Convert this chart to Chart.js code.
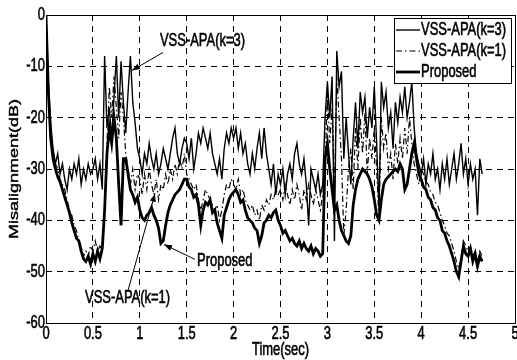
<!DOCTYPE html>
<html>
<head>
<meta charset="utf-8">
<script src="https://cdn.jsdelivr.net/npm/chart.js@4/dist/chart.umd.min.js"></script>
<style>
  body { margin: 0; background: #fff; }
  canvas { display: block; }
</style>
</head>
<body>
<canvas id="misalignChart" width="517" height="360"></canvas>
<script>
// Sample spacing of the misalignment curves (seconds)
const timeStep = 0.025;

// Axis ticks
const xTicks = [0, 0.5, 1, 1.5, 2, 2.5, 3, 3.5, 4, 4.5, 5];
const yTicks = [0, -10, -20, -30, -40, -50, -60];

const seriesNames = ['VSS-APA(k=3)', 'VSS-APA(k=1)', 'Proposed'];

// Misalignment (dB), one row = 0.5 s
const vssK3 = [
  0, -13, -21, -26, -29, -27, -31, -29, -32, -34, -30, -32, -29, -31, -28, -33, -30, -32, -29, -31,
  -30, -28, -32, -29, -34, -8, -22, -18, -24, -16, -8, -20, -9, -17, -23, -15, -8, -17, -21, -26,
  -28, -31, -27, -29, -25, -28, -30, -27, -31, -29, -26, -28, -30, -27, -24, -22, -27, -29, -26, -24,
  -25, -28, -24, -30, -27, -23, -25, -22, -24, -26, -23, -27, -29, -31, -28, -32, -26, -23, -25, -22,
  -24, -22, -26, -23, -27, -25, -29, -31, -27, -30, -26, -23, -28, -22, -27, -30, -33, -29, -35, -31,
  -33, -30, -35, -31, -29, -32, -27, -25, -29, -31, -28, -33, -41, -30, -32, -34, -31, -35, -33, -20,
  -13, -20, -12, -44, -7, -14, -11, -28, -20, -27, -33, -24, -17, -26, -15, -19, -16, -24, -18, -22,
  -14, -25, -38, -13, -18, -15, -22, -19, -26, -17, -21, -16, -19, -14, -20, -17, -13, -22, -27, -29,
  -31, -28, -33, -29, -31, -27, -32, -30, -34, -29, -32, -28, -33, -30, -27, -32, -29, -25, -31, -28,
  -33, -29, -32, -30, -39, -28, -31
];

const vssK1 = [
  0, -14, -23, -27, -29, -30, -32, -33, -34, -36, -38, -39, -41, -42, -44, -45, -47, -46, -47, -45,
  -46, -44, -46, -45, -46, -38, -25, -14, -20, -12, -18, -24, -15, -20, -27, -30, -33, -30, -34, -31,
  -32, -35, -31, -34, -30, -33, -35, -32, -36, -33, -34, -31, -33, -30, -32, -29, -31, -28, -30, -27,
  -31, -32, -33, -34, -33, -36, -38, -36, -34, -35, -36, -37, -38, -37, -40, -38, -35, -33, -34, -32,
  -33, -34, -32, -35, -34, -36, -37, -38, -37, -39, -38, -40, -37, -38, -36, -37, -35, -36, -34, -35,
  -34, -36, -33, -35, -37, -34, -36, -33, -35, -38, -34, -36, -33, -35, -37, -34, -36, -38, -35, -30,
  -15, -25, -18, -35, -12, -20, -28, -43, -38, -30, -26, -34, -22, -30, -20, -27, -19, -31, -24, -28,
  -22, -30, -40, -20, -26, -23, -30, -27, -32, -25, -29, -24, -28, -22, -27, -20, -25, -29, -31, -33,
  -30, -31, -32.5, -33, -34.5, -35, -36.5, -37, -38.5, -40, -41, -42.5, -43, -44.5, -46, -48, -49.5, -47, -44, -45,
  -46, -45, -47, -46, -48, -46, -47
];

const proposed = [
  0, -15, -24, -28, -30, -31.5, -32.5, -34, -35.5, -37, -38.5, -40.5, -42, -43.5, -44, -46, -47.5, -48, -47, -48.5,
  -46.5, -48, -46, -47.5, -45.5, -38, -27, -22, -25, -20, -24, -33, -41, -28, -28, -31, -34, -35, -36.5, -35.5,
  -38, -39.5, -40, -39, -38.5, -37.5, -39, -40, -41.5, -44.5, -44, -41, -38.5, -37, -36, -35, -34.5, -34, -33, -32,
  -32, -33.5, -34, -35.5, -35, -37, -41, -38, -36.5, -37, -36, -38.5, -38, -40.5, -42, -43.5, -39, -37.5, -36, -35,
  -34.5, -34, -35, -36.5, -36, -38, -39.5, -40, -40.5, -41.5, -42, -44.5, -43, -40.5, -40, -39, -39.5, -38.5, -38, -40,
  -41, -42.5, -42, -43, -44, -43.5, -44.5, -45, -44, -45.5, -44.5, -45.5, -46, -45, -46.5, -45.5, -46, -47, -46.5, -28,
  -25, -30, -34, -38, -37, -40, -42, -43, -44, -44.5, -43, -37, -34, -32, -31, -30, -30.5, -31, -32, -33.5,
  -36, -39, -40, -36, -33, -32, -31.5, -31, -30.5, -30, -30.5, -29, -30, -34, -33, -30, -27, -25, -28, -31,
  -32, -33.5, -34, -35.5, -36, -37.5, -38, -39.5, -40, -42, -42.5, -44, -45, -46.5, -48, -50, -51, -48, -45, -46.5,
  -47, -45.5, -48, -46.5, -49, -47, -48
];

// turn a value list into {x, y} points
function toPoints(values) {
  return values.map((v, i) => ({ x: i * timeStep, y: v }));
}

// text labels with pointer arrows, in data units
const callouts = [
  { text: 'VSS-APA(k=3)', at: [1.215, -5.1], from: [1.247, -7.3], to: [0.917, -10.8] },
  { text: 'Proposed', at: [1.61, -47.9], from: [1.588, -47.6], to: [1.258, -44.7] },
  { text: 'VSS-APA(k=1)', at: [0.416, -55.2], from: [0.874, -53.7], to: [1.162, -34.8] }
];

const FONT = '18px "Liberation Sans", Arial, sans-serif';
const SQUEEZE = 0.72;

// narrow, slightly heavy text like the old plot export
function drawSqueezed(ctx, text, x, y, align) {
  ctx.save();
  ctx.translate(x, y);
  ctx.scale(SQUEEZE, 1);
  ctx.textAlign = align || 'left';
  ctx.textBaseline = 'middle';
  ctx.lineWidth = 0.6;
  ctx.fillText(text, 0, 0);
  ctx.strokeText(text, 0, 0);
  ctx.restore();
}

function drawArrow(ctx, x1, y1, x2, y2) {
  ctx.beginPath();
  ctx.moveTo(x1, y1);
  ctx.lineTo(x2, y2);
  ctx.stroke();
  const a = Math.atan2(y2 - y1, x2 - x1);
  const len = 8, w = 3;
  ctx.beginPath();
  ctx.moveTo(x2, y2);
  ctx.lineTo(x2 - len * Math.cos(a) + w * Math.sin(a), y2 - len * Math.sin(a) - w * Math.cos(a));
  ctx.lineTo(x2 - len * Math.cos(a) - w * Math.sin(a), y2 - len * Math.sin(a) + w * Math.cos(a));
  ctx.closePath();
  ctx.fill();
}

// Frame, tick labels, titles, callouts and legend box
const plotDecor = {
  id: 'plotDecor',
  afterDraw(chart) {
    const ctx = chart.ctx;
    const area = chart.chartArea;
    const xs = chart.scales.x;
    const ys = chart.scales.y;

    ctx.save();
    ctx.strokeStyle = '#000';
    ctx.fillStyle = '#000';
    ctx.lineWidth = 1;
    ctx.setLineDash([]);
    ctx.strokeRect(Math.round(area.left) + 0.5, Math.round(area.top) + 0.5,
      Math.round(area.right - area.left), Math.round(area.bottom - area.top));

    ctx.font = FONT;
    xTicks.forEach(v => drawSqueezed(ctx, String(v), xs.getPixelForValue(v), area.bottom + 11, 'center'));
    yTicks.forEach(v => drawSqueezed(ctx, String(v), area.left - 1, ys.getPixelForValue(v), 'right'));

    drawSqueezed(ctx, 'Time(sec)', (area.left + area.right) / 2, area.bottom + 27, 'center');

    ctx.save();
    ctx.translate(14, (area.top + area.bottom) / 2);
    ctx.rotate(-Math.PI / 2);
    ctx.scale(1, SQUEEZE);
    ctx.textAlign = 'center';
    ctx.textBaseline = 'middle';
    ctx.lineWidth = 0.6;
    ctx.fillText('Misalignment(dB)', 0, 0);
    ctx.strokeText('Misalignment(dB)', 0, 0);
    ctx.restore();

    ctx.lineWidth = 1;
    callouts.forEach(c => {
      drawSqueezed(ctx, c.text, xs.getPixelForValue(c.at[0]), ys.getPixelForValue(c.at[1]), 'left');
      drawArrow(ctx, xs.getPixelForValue(c.from[0]), ys.getPixelForValue(c.from[1]),
        xs.getPixelForValue(c.to[0]), ys.getPixelForValue(c.to[1]));
    });

    // legend
    const box = { left: 394, top: 18, width: 117, height: 65 };
    ctx.fillStyle = '#fff';
    ctx.fillRect(box.left, box.top, box.width, box.height);
    ctx.strokeRect(box.left + 0.5, box.top + 0.5, box.width, box.height);
    ctx.fillStyle = '#000';
    const rowY = [30, 51, 72];
    chart.data.datasets.forEach((ds, i) => {
      ctx.save();
      ctx.lineWidth = ds.borderWidth;
      ctx.setLineDash(ds.borderDash || []);
      ctx.beginPath();
      ctx.moveTo(box.left + 2, rowY[i]);
      ctx.lineTo(box.left + 26, rowY[i]);
      ctx.stroke();
      ctx.restore();
      drawSqueezed(ctx, ds.label, box.left + 27, rowY[i], 'left');
    });
    ctx.restore();
  }
};

const gridColor = ctx => (ctx.tick && (ctx.tick.value === 0 || ctx.tick.value === 5 || ctx.tick.value === -60))
  ? 'rgba(0,0,0,0)' : '#000';

new Chart(document.getElementById('misalignChart'), {
  type: 'line',
  data: {
    datasets: [
      { label: seriesNames[0], data: toPoints(vssK3), borderColor: '#000', borderWidth: 1.4, order: 2 },
      { label: seriesNames[1], data: toPoints(vssK1), borderColor: '#000', borderWidth: 1.2, borderDash: [6, 3, 1.5, 3], order: 1 },
      { label: seriesNames[2], data: toPoints(proposed), borderColor: '#000', borderWidth: 2.8, order: 0 }
    ]
  },
  options: {
    responsive: false,
    animation: false,
    layout: { padding: { top: 15, right: 2, left: 0, bottom: 0 } },
    elements: { point: { radius: 0 }, line: { tension: 0 } },
    plugins: { legend: { display: false }, tooltip: { enabled: false } },
    scales: {
      x: {
        type: 'linear', min: 0, max: 5,
        ticks: { display: false, stepSize: 0.5 },
        grid: { color: gridColor, lineWidth: 1, drawTicks: false },
        border: { display: false, dash: [6, 5] },
        afterFit: s => { s.height = 37; }
      },
      y: {
        type: 'linear', min: -60, max: 0,
        ticks: { display: false, stepSize: 10 },
        grid: { color: gridColor, lineWidth: 1, drawTicks: false },
        border: { display: false, dash: [6, 5] },
        afterFit: s => { s.width = 46; }
      }
    }
  },
  plugins: [plotDecor]
});
</script>
</body>
</html>
